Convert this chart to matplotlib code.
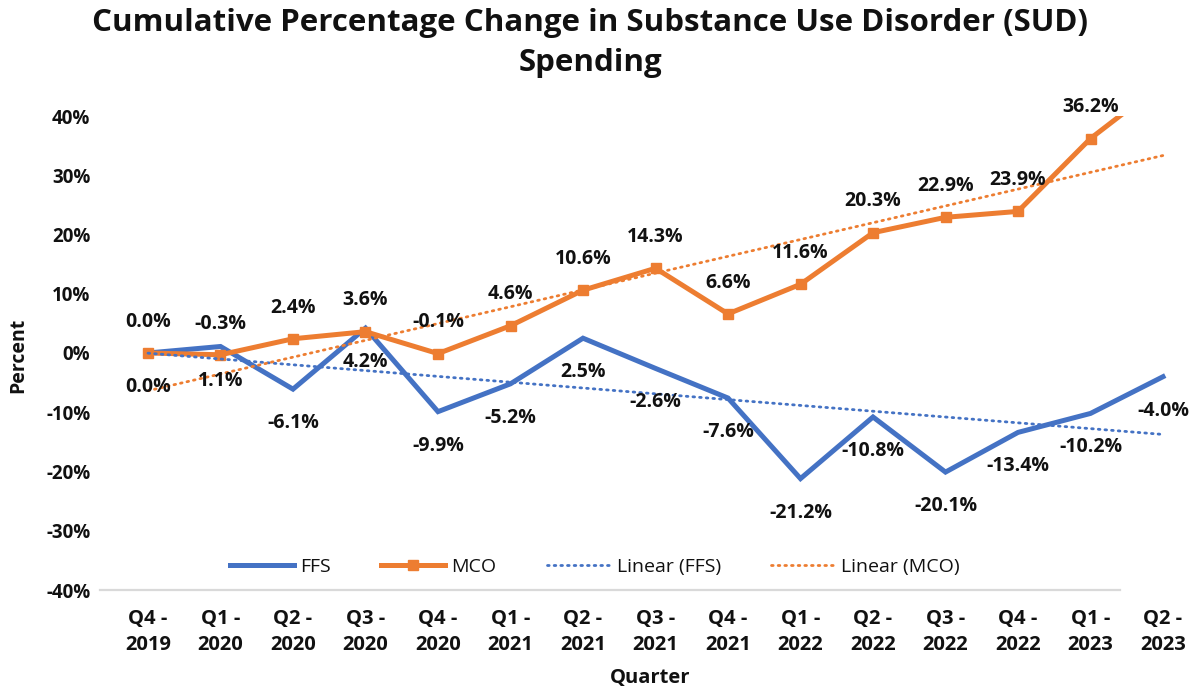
import matplotlib
matplotlib.use("Agg")
import matplotlib.pyplot as plt
import numpy as np

plt.rcParams['font.family'] = ['Open Sans', 'DejaVu Sans']

quarters = ["Q4 -\n2019", "Q1 -\n2020", "Q2 -\n2020", "Q3 -\n2020", "Q4 -\n2020",
            "Q1 -\n2021", "Q2 -\n2021", "Q3 -\n2021", "Q4 -\n2021", "Q1 -\n2022",
            "Q2 -\n2022", "Q3 -\n2022", "Q4 -\n2022", "Q1 -\n2023", "Q2 -\n2023"]
ffs = [0.0, 1.1, -6.1, 4.2, -9.9, -5.2, 2.5, -2.6, -7.6, -21.2, -10.8, -20.1, -13.4, -10.2, -4.0]
mco = [0.0, -0.3, 2.4, 3.6, -0.1, 4.6, 10.6, 14.3, 6.6, 11.6, 20.3, 22.9, 23.9, 36.2, 45.6]
yticks = [-40, -30, -20, -10, 0, 10, 20, 30, 40]

BLUE = '#4472C4'
ORANGE = '#ED7D31'
TXT = '#111111'

W, H = 1201, 691
fig = plt.figure(figsize=(W / 100, H / 100), dpi=100)
ax = fig.add_axes([100 / W, (H - 590) / H, 1101 / W, (590 - 116) / H])

x = np.arange(len(quarters))
ax.set_xlim(-0.662, 14.524)
ax.set_ylim(-40, 40)

# series
ax.plot(x, ffs, color=BLUE, lw=3.6, solid_joinstyle='miter', zorder=3, label='FFS')
ax.plot(x, mco, color=ORANGE, lw=3.6, marker='s', ms=7.5, solid_joinstyle='miter',
        zorder=4, label='MCO')

# linear trendlines
pf = np.polyfit(x, ffs, 1)
pm = np.polyfit(x, mco, 1)
ax.plot(x, np.polyval(pf, x), color=BLUE, lw=2.0, ls=(0, (0.6, 1.8)),
        dash_capstyle='round', zorder=5, label='Linear (FFS)')
ax.plot(x, np.polyval(pm, x), color=ORANGE, lw=2.0, ls=(0, (0.6, 1.8)),
        dash_capstyle='round', zorder=5, label='Linear (MCO)')

# data labels
for xi, v in zip(x, ffs):
    ax.annotate(f"{v:.1f}%", (xi, v), xytext=(0, -24.5), textcoords='offset points',
                ha='center', va='center', fontsize=14, fontweight='bold', color=TXT,
                zorder=6, annotation_clip=False)
for xi, v in zip(x, mco):
    if v > 40:
        continue
    ax.annotate(f"{v:.1f}%", (xi, v), xytext=(0, 22.5), textcoords='offset points',
                ha='center', va='center', fontsize=14, fontweight='bold', color=TXT,
                zorder=6, annotation_clip=False)

# axes styling
for s in ['top', 'right', 'left']:
    ax.spines[s].set_visible(False)
ax.spines['bottom'].set_position(('data', -40))
ax.spines['bottom'].set_color('#d9d9d9')
ax.spines['bottom'].set_linewidth(1.6)
ax.spines['bottom'].set_bounds(-0.662, 13.41)

ax.set_yticks(yticks)
ax.set_yticklabels([f"{t}%" for t in yticks], fontsize=13.5, fontweight='bold', color=TXT)
ax.set_xticks(x)
ax.set_xticklabels(quarters, fontsize=14.5, fontweight='bold', color=TXT, linespacing=1.35)
ax.tick_params(axis='both', length=0)
ax.tick_params(axis='x', pad=14)
ax.tick_params(axis='y', pad=7)

fig.text(18 / W, 1 - 355 / H, "Percent", rotation=90, ha='center', va='center',
         fontsize=14, fontweight='bold', color=TXT)
fig.text(650 / W, 1 - 678 / H, "Quarter", ha='center', va='center',
         fontsize=14.5, fontweight='bold', color=TXT)
fig.text(590 / W, 1 - 43 / H,
         "Cumulative Percentage Change in Substance Use Disorder (SUD)\nSpending",
         ha='center', va='center', fontsize=22.5, fontweight='bold', color=TXT,
         linespacing=1.42)

leg = fig.legend(loc='center', bbox_to_anchor=(595 / W, 1 - 567 / H), ncol=4,
                 frameon=False, fontsize=14, handlelength=3.3, columnspacing=2.6,
                 handletextpad=0.3)
for t in leg.get_texts():
    t.set_color(TXT)

fig.savefig("out.png", dpi=100)
